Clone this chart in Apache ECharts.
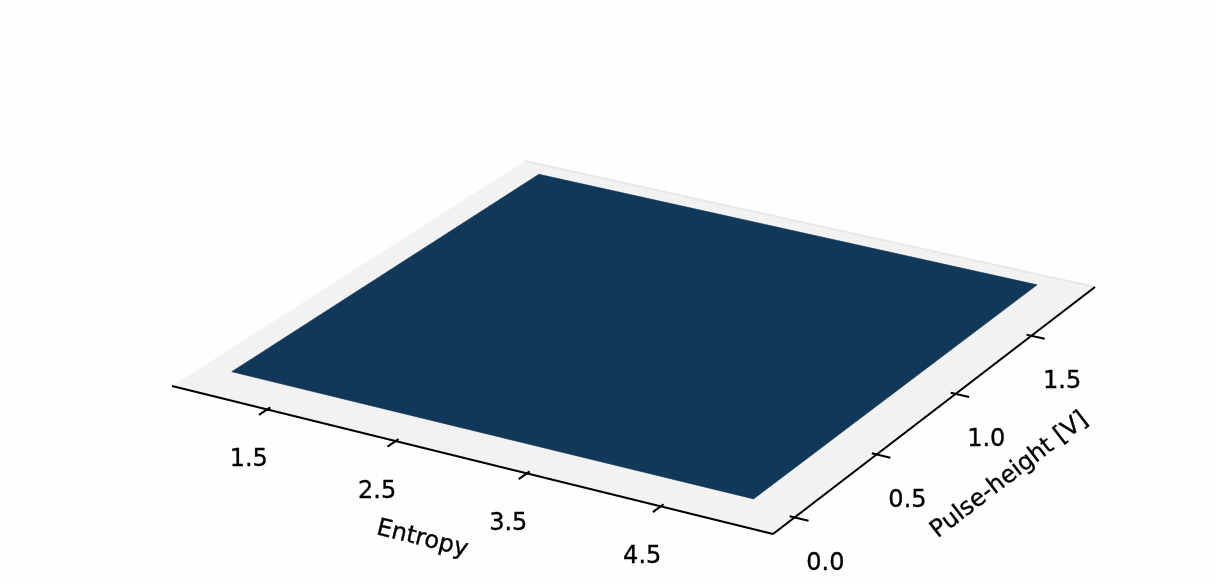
<!DOCTYPE html>
<html>
<head>
<meta charset="utf-8">
<script src="https://cdn.jsdelivr.net/npm/echarts@6/dist/echarts.min.js"></script>
<style>
  html, body { margin: 0; padding: 0; background: #fefefe; }
  #chart { width: 1216px; height: 584px; }
</style>
</head>
<body>
<div id="chart"></div>
<script>
// ---- data ----
// axis limits of the 3D box floor
const entropyLimits = [0.744, 5.322];
const pulseLimits = [-0.1285, 1.935];
// tick values and their labels
const entropyTicks = [1.5, 2.5, 3.5, 4.5];
const entropyTickLabels = ['1.5', '2.5', '3.5', '4.5'];
const pulseTicks = [0.0, 0.5, 1.0, 1.5];
const pulseTickLabels = ['0.0', '0.5', '1.0', '1.5'];
// surface extent: entropy from/to, pulse-height from/to (flat level surface)
const surfaceEntropy = [0.96, 4.96];
const surfacePulse = [0.05, 1.86];

// ---- view: where the floor corners of the box land on screen ----
// order: (xmin,ymin), (xmax,ymin), (xmax,ymax), (xmin,ymax)
const floorCorners = [[172, 386], [773, 534], [1095, 287], [525, 161]];

const FONT = '"DejaVu Sans", "Liberation Sans", sans-serif';
const TICK_FONT_SIZE = 24;
const SURFACE_COLOR = '#113859';
const PANE_COLOR = '#f2f2f2';
const LINE_COLOR = '#000000';
const LINE_WIDTH = 2.1;

// perspective map of the unit square onto a quadrilateral
function makeHomography(p0, p1, p2, p3) {
  const sx = p0[0] - p1[0] + p2[0] - p3[0];
  const sy = p0[1] - p1[1] + p2[1] - p3[1];
  const dx1 = p1[0] - p2[0], dx2 = p3[0] - p2[0];
  const dy1 = p1[1] - p2[1], dy2 = p3[1] - p2[1];
  const det = dx1 * dy2 - dx2 * dy1;
  const g = (sx * dy2 - dx2 * sy) / det;
  const h = (dx1 * sy - sx * dy1) / det;
  const a = p1[0] - p0[0] + g * p1[0], b = p3[0] - p0[0] + h * p3[0], c = p0[0];
  const d = p1[1] - p0[1] + g * p1[1], e = p3[1] - p0[1] + h * p3[1], f = p0[1];
  return function (u, v) {
    const w = g * u + h * v + 1;
    return [(a * u + b * v + c) / w, (d * u + e * v + f) / w];
  };
}
const H = makeHomography.apply(null, floorCorners);
const xSpan = entropyLimits[1] - entropyLimits[0];
const ySpan = pulseLimits[1] - pulseLimits[0];
function proj(x, y) {
  return H((x - entropyLimits[0]) / xSpan, (y - pulseLimits[0]) / ySpan);
}
function quad(x0, x1, y0, y1) {
  return [proj(x0, y0), proj(x1, y0), proj(x1, y1), proj(x0, y1)];
}
function textStyle(str) {
  return { text: str, font: TICK_FONT_SIZE + 'px ' + FONT, fill: '#000',
           stroke: '#000', lineWidth: 0.35, align: 'center', verticalAlign: 'middle' };
}

// tick length as a share of the crossing axis range (inward / outward parts)
const TICK_IN = 0.008, TICK_OUT = 0.022;

const chart = echarts.init(document.getElementById('chart'), null, { renderer: 'canvas' });

const option = {
  backgroundColor: '#fefefe',
  animation: false,
  series: [
    // floor pane
    {
      type: 'custom', coordinateSystem: 'none', silent: true,
      data: [[entropyLimits[0], entropyLimits[1], pulseLimits[0], pulseLimits[1]]],
      renderItem: function (params, api) {
        const x0 = api.value(0), x1 = api.value(1), y0 = api.value(2), y1 = api.value(3);
        return {
          type: 'group',
          children: [
            { type: 'polygon', shape: { points: quad(x0, x1, y0, y1) }, style: { fill: PANE_COLOR } },
            // back wall seen edge-on along the far edge
            { type: 'polyline', shape: { points: [proj(x0, y1), proj(x1, y1)] },
              style: { stroke: '#e8e8e8', lineWidth: 2, fill: null } }
          ]
        };
      }
    },
    // surface
    {
      type: 'custom', coordinateSystem: 'none', silent: true,
      data: [[surfaceEntropy[0], surfaceEntropy[1], surfacePulse[0], surfacePulse[1]]],
      renderItem: function (params, api) {
        return {
          type: 'polygon',
          shape: { points: quad(api.value(0), api.value(1), api.value(2), api.value(3)) },
          style: { fill: SURFACE_COLOR, stroke: SURFACE_COLOR, lineWidth: 0.6 }
        };
      }
    },
    // Entropy axis: line, ticks, tick labels, name
    {
      type: 'custom', coordinateSystem: 'none', silent: true,
      data: entropyTicks.map(function (t, i) { return [t, i]; }),
      renderItem: function (params, api) {
        const t = api.value(0), i = api.value(1);
        const y0 = pulseLimits[0];
        const a = proj(t, y0 - TICK_OUT * ySpan), b = proj(t, y0 + TICK_IN * ySpan);
        const base = proj(t, y0);
        const children = [
          { type: 'polyline', shape: { points: [a, b] }, style: { stroke: LINE_COLOR, lineWidth: LINE_WIDTH, fill: null } },
          { type: 'text', x: base[0] - 18.5, y: base[1] + 50.5, style: textStyle(entropyTickLabels[i]) }
        ];
        if (params.dataIndex === 0) {
          const p0 = proj(entropyLimits[0], y0), p1 = proj(entropyLimits[1], y0);
          children.push({ type: 'polyline', shape: { points: [p0, p1] },
            style: { stroke: LINE_COLOR, lineWidth: LINE_WIDTH, fill: null } });
          const mid = proj((entropyLimits[0] + entropyLimits[1]) / 2, y0);
          const ang = Math.atan2(p1[1] - p0[1], p1[0] - p0[0]);
          children.push({ type: 'text', x: mid[0] - 43, y: mid[1] + 81, rotation: -ang,
            style: textStyle('Entropy') });
        }
        return { type: 'group', children: children };
      }
    },
    // Pulse-height axis: line, ticks, tick labels, name
    {
      type: 'custom', coordinateSystem: 'none', silent: true,
      data: pulseTicks.map(function (t, i) { return [t, i]; }),
      renderItem: function (params, api) {
        const t = api.value(0), i = api.value(1);
        const x1 = entropyLimits[1];
        const a = proj(x1 - TICK_IN * xSpan, t), b = proj(x1 + TICK_OUT * xSpan, t);
        const base = proj(x1, t);
        const children = [
          { type: 'polyline', shape: { points: [a, b] }, style: { stroke: LINE_COLOR, lineWidth: LINE_WIDTH, fill: null } },
          { type: 'text', x: base[0] + 30.7, y: base[1] + 46, style: textStyle(pulseTickLabels[i]) }
        ];
        if (params.dataIndex === 0) {
          const p0 = proj(x1, pulseLimits[0]), p1 = proj(x1, pulseLimits[1]);
          children.push({ type: 'polyline', shape: { points: [p0, p1] },
            style: { stroke: LINE_COLOR, lineWidth: LINE_WIDTH, fill: null } });
          const mid = proj(x1, (pulseLimits[0] + pulseLimits[1]) / 2);
          const ang = Math.atan2(p1[1] - p0[1], p1[0] - p0[0]);
          children.push({ type: 'text', x: mid[0] + 69, y: mid[1] + 70, rotation: -ang,
            style: textStyle('Pulse-height [V]') });
        }
        return { type: 'group', children: children };
      }
    }
  ]
};
chart.setOption(option);
</script>
</body>
</html>
